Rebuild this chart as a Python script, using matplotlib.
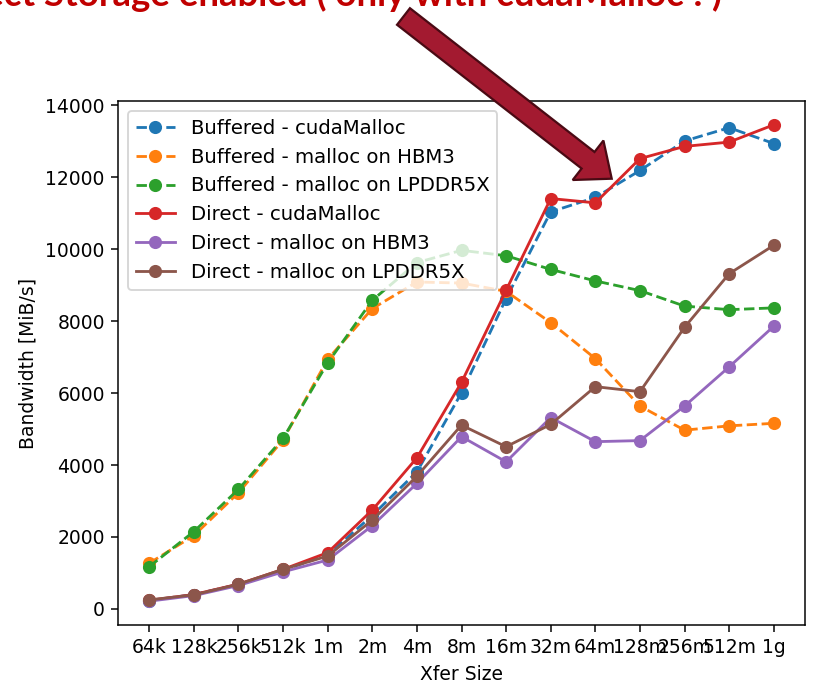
import numpy as np
import matplotlib
matplotlib.use("Agg")
import matplotlib.pyplot as plt
from matplotlib import patches, transforms

# transfer sizes on the x axis
sizes = ["64k", "128k", "256k", "512k", "1m", "2m", "4m", "8m", "16m",
         "32m", "64m", "128m", "256m", "512m", "1g"]

# bandwidth in MiB/s
buf_cuda = [230, 400, 680, 1080, 1500, 2600, 3810, 6010, 8630,
            11040, 11440, 12190, 13010, 13380, 12940]
buf_hbm3 = [1270, 2040, 3230, 4700, 6940, 8350, 9090, 9060, 8830,
            7960, 6960, 5640, 4970, 5090, 5160]
buf_lpddr = [1175, 2150, 3325, 4740, 6840, 8580, 9630, 9970, 9820,
             9440, 9120, 8850, 8420, 8320, 8370]
dir_cuda = [240, 400, 690, 1100, 1565, 2750, 4200, 6300, 8860,
            11410, 11290, 12520, 12860, 12980, 13460]
dir_hbm3 = [215, 370, 650, 1030, 1360, 2315, 3490, 4790, 4090,
            5320, 4650, 4680, 5640, 6730, 7860]
dir_lpddr = [250, 390, 685, 1100, 1470, 2470, 3690, 5110, 4510,
             5130, 6180, 6040, 7830, 9320, 10110]

W, H = 817, 683
DPI = 135
fig = plt.figure(figsize=(W / DPI, H / DPI), dpi=DPI)
ax = fig.add_axes([118 / W, 1 - 625 / H, (805 - 118) / W, (625 - 101) / H])

x = np.arange(len(sizes))
ax.plot(x, buf_cuda, "o--", label="Buffered - cudaMalloc")
ax.plot(x, buf_hbm3, "o--", label="Buffered - malloc on HBM3")
ax.plot(x, buf_lpddr, "o--", label="Buffered - malloc on LPDDR5X")
ax.plot(x, dir_cuda, "o-", label="Direct - cudaMalloc")
ax.plot(x, dir_hbm3, "o-", label="Direct - malloc on HBM3")
ax.plot(x, dir_lpddr, "o-", label="Direct - malloc on LPDDR5X")

ax.set_xticks(x)
ax.set_xticklabels(sizes)
ax.set_xlabel("Xfer Size")
ax.set_ylabel("Bandwidth [MiB/s]")
ax.legend(loc="upper left", fontsize=10.5)

# slide annotation: title cut off at the top, plus a big arrow
px = transforms.Affine2D().scale(1 / W, -1 / H).translate(0, 1) + fig.transFigure
fig.text(722, 6, "GPU Direct Storage enabled ( only with cudaMalloc ! )",
         transform=px, ha="right", va="baseline", color="#c00000",
         fontsize=19.5, fontweight="bold", family=["Lato", "DejaVu Sans"])

arrow = patches.FancyArrow(403.5, 16.5, 203.5 - 24 * 0.789, 158.5 - 24 * 0.614,
                           width=21, head_width=50, head_length=30,
                           length_includes_head=False,
                           facecolor="#a31a30", edgecolor="#4a0a14",
                           linewidth=1.2, transform=px)
fig.add_artist(arrow)

fig.savefig("out.png", dpi=DPI)
